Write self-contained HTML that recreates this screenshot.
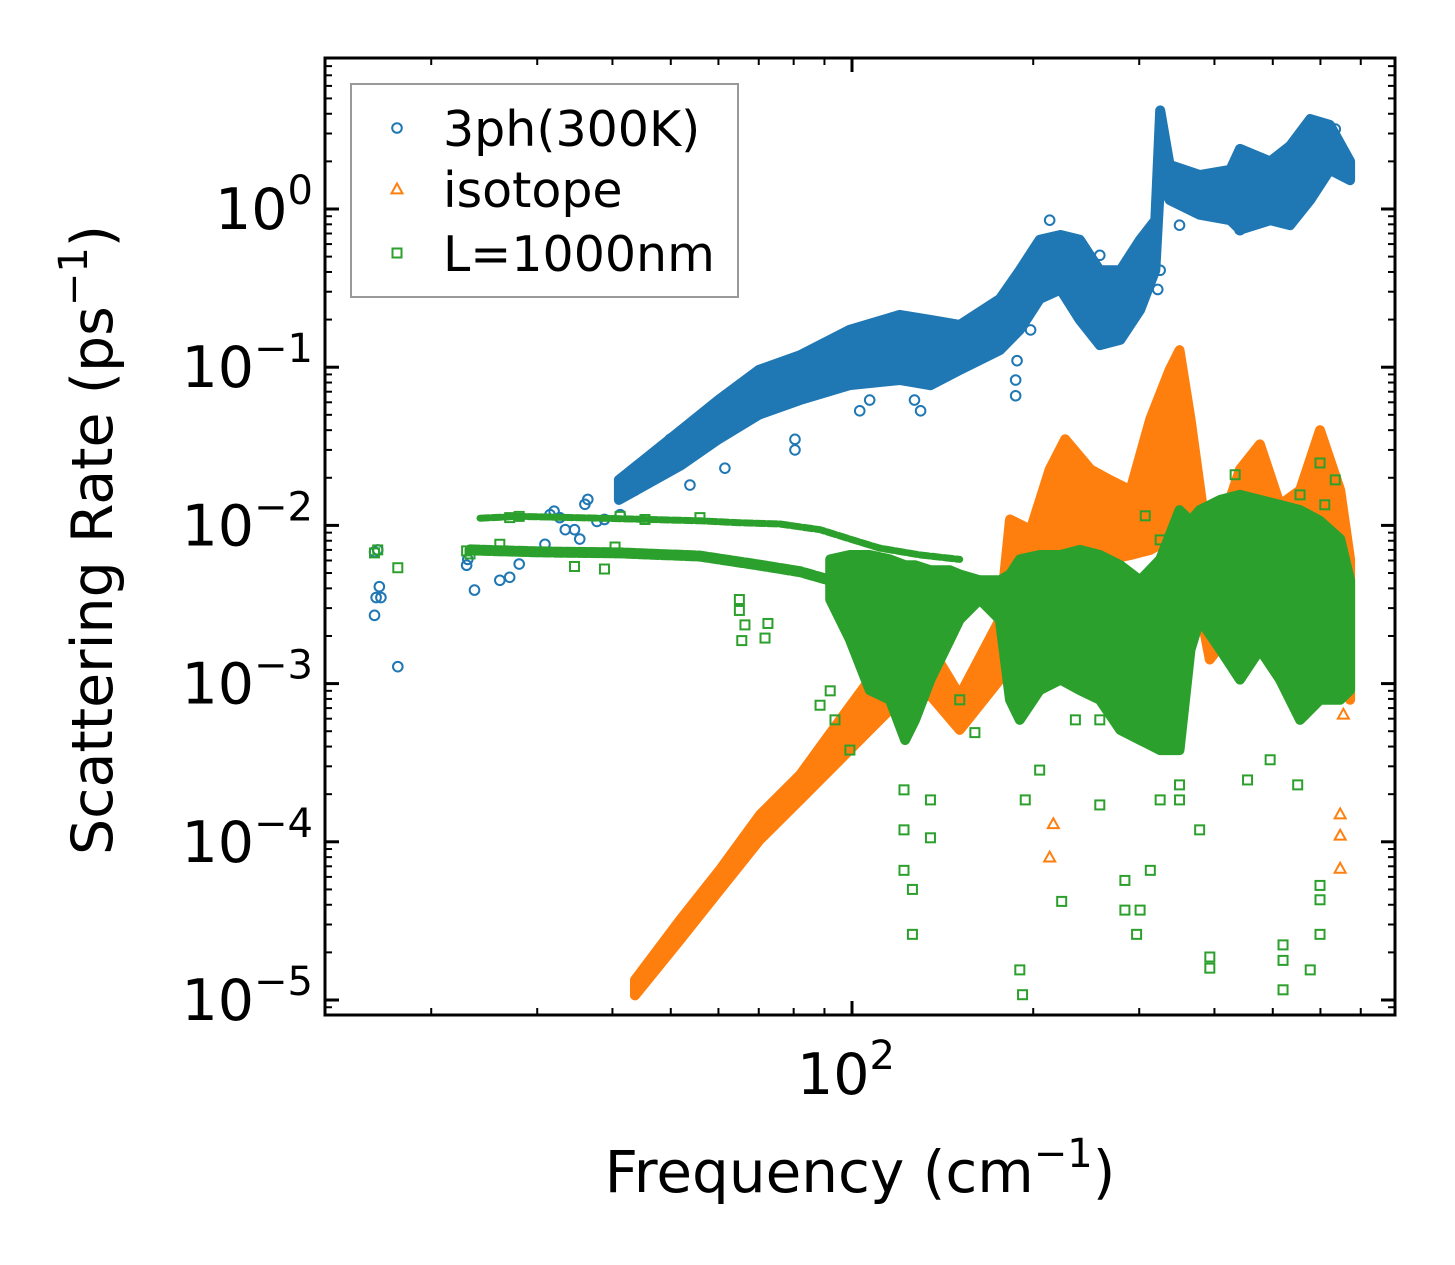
<!DOCTYPE html>
<html><head><meta charset="utf-8">
<style>
html,body{margin:0;padding:0;background:#fff;}
svg{display:block;font-family:"DejaVu Sans","Liberation Sans",sans-serif;}
</style></head>
<body>
<svg id="chart" width="1455" height="1265" viewBox="0 0 1455 1265" xmlns="http://www.w3.org/2000/svg">
<rect x="0" y="0" width="1455" height="1265" fill="#fff"/>
<g id="plot"></g>
<g id="axes"></g>
<g id="legend"></g>
</svg>
<script>
// ---------- data ----------
const blueBandFreq = [41,52,60,70,82,99,120,135,151,176,190,205,222,239,258,279,301,319,325,337,378,425,441,495,534,577,622,672];
const blueBandHi = [0.0194,0.040,0.062,0.096,0.119,0.172,0.214,0.199,0.185,0.27,0.41,0.64,0.685,0.64,0.41,0.41,0.64,0.85,4.2,1.9,1.64,1.77,2.4,2.0,2.5,3.7,3.4,2.0];
const blueBandLo = [0.0145,0.024,0.035,0.050,0.062,0.077,0.083,0.077,0.096,0.128,0.172,0.27,0.31,0.199,0.138,0.149,0.23,0.41,1.52,1.14,0.92,0.85,0.74,0.85,0.79,1.14,1.77,1.52];
const blueFreq = [16.1,16.2,16.5,16.4,16.1,16.3,17.6,22.9,23,23.6,26,27,28,30.9,31.5,32,32.7,33.4,34.6,35.3,36,36.4,37.7,38.8,41.2,43.6,44.4,46.2,48,49.9,53.8,55.9,58,61.5,65,69,80.4,80.4,103,107,127,130,187,187,188,198,213,249,258,322,325,350,350,441,635,635];
const blueRate = [2.7e-3,3.5e-3,3.5e-3,4.1e-3,6.8e-3,7.0e-3,1.28e-3,5.6e-3,6.1e-3,3.9e-3,4.5e-3,4.7e-3,5.7e-3,7.6e-3,1.17e-2,1.23e-2,1.12e-2,9.4e-3,9.4e-3,8.2e-3,1.36e-2,1.46e-2,1.06e-2,1.09e-2,1.17e-2,0.0167,0.0223,0.024,0.0266,0.035,0.018,0.031,0.035,0.023,0.066,0.050,0.030,0.035,0.053,0.062,0.062,0.053,0.083,0.066,0.11,0.172,0.85,0.23,0.51,0.31,0.41,1.14,0.79,0.74,3.2,2.4];
const orangeBandFreq = [43.6,51.8,60.4,70.3,82,95.5,107,120,135,151,176,183,198,213,226,249,268,290,313,337,350,365,393,441,476,514,555,599,647,672];
const orangeBandHi = [1.34e-5,3.2e-5,6.7e-5,1.48e-4,2.65e-4,5.9e-4,1.06e-3,1.64e-3,1.7e-3,8.4e-4,2.54e-3,1.09e-2,9.4e-3,0.0226,0.035,0.0226,0.0194,0.0167,0.047,0.096,0.128,0.047,6.1e-3,0.0226,0.0325,0.0135,0.0167,0.040,0.0167,6.1e-3];
const orangeBandLo = [1.07e-5,2.4e-5,5.0e-5,1.03e-4,1.84e-4,3.3e-4,5.1e-4,7.9e-4,8.4e-4,5.1e-4,1.06e-3,1.9e-3,2.54e-3,6.1e-3,6.1e-3,6.5e-3,6.1e-3,6.5e-3,7.0e-3,8.2e-3,1.09e-2,6.1e-3,1.42e-3,2.54e-3,3.4e-3,1.9e-3,2.54e-3,3.4e-3,1.9e-3,7.9e-4];
const orangeFreq = [213,216,350,352,355,647,647,647,655];
const orangeRate = [8e-5,1.3e-4,0.040,0.033,0.028,1.5e-4,1.1e-4,6.8e-5,6.4e-4];
const greenUpperFreq = [24.1,28,38.2,55.9,65,75.9,88.5,99.2,111,130,151];
const greenUpperRate = [0.0111,0.0114,0.0111,0.0107,0.0104,0.0102,9.4e-3,8.2e-3,7.2e-3,6.5e-3,6.1e-3];
const greenLowerFreq = [23.2,30.3,41.2,55.9,70.3,82,92];
const greenLowerRate = [7.0e-3,6.8e-3,6.7e-3,6.4e-3,5.6e-3,5.1e-3,4.5e-3];
const greenBandFreq = [92,99.2,107,115.6,122.5,127.3,135,145.5,151,163,176,183,190,205,222,239,258,279,301,325,350,365,378,409,441,476,514,555,599,647,672];
const greenBandHi = [6.1e-3,6.5e-3,6.5e-3,6.1e-3,5.6e-3,5.6e-3,5.2e-3,5.2e-3,4.9e-3,4.5e-3,4.5e-3,4.9e-3,6.1e-3,6.5e-3,6.5e-3,7.0e-3,6.5e-3,5.6e-3,4.5e-3,6.1e-3,0.0125,0.0107,0.0125,0.0145,0.0156,0.0145,0.0135,0.0125,0.0107,8.2e-3,4.5e-3];
const greenBandLo = [3.4e-3,1.9e-3,9.1e-4,7.9e-4,4.4e-4,5.9e-4,1.06e-3,1.9e-3,2.54e-3,3.4e-3,2.54e-3,7.9e-4,5.9e-4,9.1e-4,1.06e-3,9.1e-4,7.9e-4,5.1e-4,4.4e-4,3.8e-4,3.8e-4,1.64e-3,2.54e-3,1.64e-3,1.06e-3,1.64e-3,1.06e-3,5.9e-4,7.9e-4,7.9e-4,9.1e-4];
const greenFreq = [16.1,16.3,17.6,22.9,23.2,26,27,28,34.6,38.8,40.4,41.2,45.3,55.9,65,65,66.4,72.5,71.7,65.6,88.5,92,93.7,99.2,122,122,126,122,126,135,135,151,160,190,192,194,205,223,235,258,258,284,284,297,301,313,325,350,350,378,393,393,454,495,520,520,520,550,577,599,599,599,635,599,610,555,433,466,325,307];
const greenRate = [6.7e-3,7.0e-3,5.4e-3,6.9e-3,6.6e-3,7.6e-3,1.12e-2,1.14e-2,5.5e-3,5.3e-3,7.3e-3,1.14e-2,1.09e-2,1.12e-2,3.4e-3,2.9e-3,2.35e-3,2.4e-3,1.94e-3,1.87e-3,7.3e-4,9.0e-4,5.9e-4,3.8e-4,2.13e-4,1.19e-4,2.6e-5,6.6e-5,5.0e-5,1.84e-4,1.06e-4,7.9e-4,4.9e-4,1.55e-5,1.08e-5,1.84e-4,2.84e-4,4.2e-5,5.9e-4,5.9e-4,1.71e-4,3.7e-5,5.7e-5,2.6e-5,3.7e-5,6.6e-5,1.84e-4,2.29e-4,1.84e-4,1.19e-4,1.87e-5,1.59e-5,2.46e-4,3.3e-4,2.23e-5,1.78e-5,1.16e-5,2.29e-4,1.55e-5,2.6e-5,4.3e-5,5.3e-5,0.0194,0.0248,0.0135,0.0156,0.0209,8.8e-3,8.1e-3,0.0115];
const yTickExps = [0,-1,-2,-3,-4,-5];
const xTickExps = [2];

// ---------- scales ----------
const X0 = 325, X1 = 1395, Y0 = 58, Y1 = 1015;
function X(f){ return 852 + 602*Math.log10(f/100); }
function Y(v){ return 209 - 158.2*Math.log10(v); }
const NS = 'http://www.w3.org/2000/svg';
const C_BLUE = '#1f77b4', C_ORANGE = '#ff7f0e', C_GREEN = '#2ca02c';
function mk(tag, attrs, parent){
  const e = document.createElementNS(NS, tag);
  for (const k in attrs) e.setAttribute(k, attrs[k]);
  parent.appendChild(e);
  return e;
}
const plot = document.getElementById('plot');
const axes = document.getElementById('axes');
const legend = document.getElementById('legend');

const clip = mk('clipPath', {id:'clipPlot'}, plot);
mk('rect', {x:X0, y:Y0, width:X1-X0, height:Y1-Y0}, clip);
const layer = mk('g', {'clip-path':'url(#clipPlot)'}, plot);

function band(freq, hi, lo, color, sw, name){
  let d = '';
  for (let i=0;i<freq.length;i++) d += (i?'L':'M') + X(freq[i]).toFixed(1) + ',' + Y(hi[i]).toFixed(1);
  for (let i=freq.length-1;i>=0;i--) d += 'L' + X(freq[i]).toFixed(1) + ',' + Y(lo[i]).toFixed(1);
  d += 'Z';
  const p = mk('path', {d:d, fill:color, stroke:color, 'stroke-width':sw, 'stroke-linejoin':'round'}, layer);
  
  
}
function row(freq, rate, color, sw, name){
  let d = '';
  for (let i=0;i<freq.length;i++) d += (i?'L':'M') + X(freq[i]).toFixed(1) + ',' + Y(rate[i]).toFixed(1);
  const p = mk('path', {d:d, fill:'none', stroke:color, 'stroke-width':sw, 'stroke-linejoin':'round', 'stroke-linecap':'round', 'stroke-dasharray':'9 3'}, layer);
  
  
}
function circle(cx, cy, parent){
  const c = mk('circle', {cx:cx, cy:cy, r:4.8, fill:'none', stroke:C_BLUE, 'stroke-width':2}, parent);
  
  
}
function tri(cx, cy, parent){
  const s = 5.5;
  const p = mk('polygon', {points:`${cx},${cy-s} ${cx-s},${cy+s*0.8} ${cx+s},${cy+s*0.8}`, fill:'none', stroke:C_ORANGE, 'stroke-width':2}, parent);
  
  
}
function sq(cx, cy, parent){
  const r = mk('rect', {x:cx-4.5, y:cy-4.5, width:9, height:9, fill:'none', stroke:C_GREEN, 'stroke-width':2}, parent);
  
  
}

band(blueBandFreq, blueBandHi, blueBandLo, C_BLUE, 10, 'series-3ph-band');
for (let i=0;i<blueFreq.length;i++) circle(X(blueFreq[i]), Y(blueRate[i]), layer);
band(orangeBandFreq, orangeBandHi, orangeBandLo, C_ORANGE, 10, 'series-isotope-band');
for (let i=0;i<orangeFreq.length;i++) tri(X(orangeFreq[i]), Y(orangeRate[i]), layer);
row(greenUpperFreq, greenUpperRate, C_GREEN, 7, 'series-l1000nm-upper-row');
row(greenLowerFreq, greenLowerRate, C_GREEN, 11, 'series-l1000nm-lower-row');
band(greenBandFreq, greenBandHi, greenBandLo, C_GREEN, 10, 'series-l1000nm-band');
for (let i=0;i<greenFreq.length;i++) sq(X(greenFreq[i]), Y(greenRate[i]), layer);

// ---------- axes ----------
const frame = mk('rect', {x:X0, y:Y0, width:X1-X0, height:Y1-Y0, fill:'none', stroke:'#000', 'stroke-width':3}, axes);



function tick(x1,y1,x2,y2,w,name){
  const l = mk('line', {x1:x1,y1:y1,x2:x2,y2:y2,stroke:'#000','stroke-width':w}, axes);
  
  
}
for (let e=1; e>=-6; e--) {
  for (let k=1;k<=9;k++){
    const v = k*Math.pow(10,e);
    const y = Y(v);
    if (y < Y0+1 || y > Y1-1) continue;
    const len = k===1 ? 14 : 7, w = k===1 ? 3 : 2;
    tick(X0, y, X0+len, y, w, 'y-tick');
    tick(X1, y, X1-len, y, w, 'y-tick');
  }
}
for (const e of yTickExps){
  const t = mk('text', {x:313, y:Y(Math.pow(10,e))+20, 'text-anchor':'end', 'font-size':57, fill:'#000'}, axes);
  
  
  t.textContent = '10';
  const s = mk('tspan', {dy:-25, 'font-size':40}, t);
  s.textContent = e===0 ? '0' : '\u2212' + (-e);
}
for (let e=1; e<=2; e++){
  for (let k=1;k<=9;k++){
    const f = k*Math.pow(10,e);
    const x = X(f);
    if (x < X0+1 || x > X1-1) continue;
    const len = k===1 ? 14 : 7, w = k===1 ? 3 : 2;
    tick(x, Y1, x, Y1-len, w, 'x-tick');
    tick(x, Y0, x, Y0+len, w, 'x-tick');
  }
}
for (const e of xTickExps){
  const t = mk('text', {x:X(Math.pow(10,e))-6, y:1094, 'text-anchor':'middle', 'font-size':57, fill:'#000'}, axes);
  
  
  t.textContent = '10';
  const s = mk('tspan', {dy:-25, 'font-size':40}, t);
  s.textContent = String(e);
}
const xt = mk('text', {x:860, y:1192, 'text-anchor':'middle', 'font-size':58, fill:'#000'}, axes);


xt.innerHTML = 'Frequency (cm<tspan dy="-25" font-size="40">\u22121</tspan><tspan dy="25">)</tspan>';
const yt = mk('text', {x:0, y:0, 'text-anchor':'middle', 'font-size':57, fill:'#000', transform:'translate(112,540) rotate(-90)'}, axes);


yt.innerHTML = 'Scattering Rate (ps<tspan dy="-25" font-size="40">\u22121</tspan><tspan dy="25">)</tspan>';

// ---------- legend ----------
const lb = mk('rect', {x:351, y:84, width:387, height:213, fill:'#fff', stroke:'#999', 'stroke-width':2}, legend);


const legendLabels = ['3ph(300K)','isotope','L=1000nm'];
const legendY = [128,189,253];
for (let i=0;i<3;i++){
  const g = mk('g', {}, legend);
  
  
  if (i===0) circle(397, legendY[i], g);
  if (i===1) tri(397, legendY[i], g);
  if (i===2) sq(397, legendY[i], g);
  const t = mk('text', {x:443, y:legendY[i]+18, 'font-size':49, fill:'#000'}, g);
  
  
  t.textContent = legendLabels[i];
}
</script>
</body></html>
